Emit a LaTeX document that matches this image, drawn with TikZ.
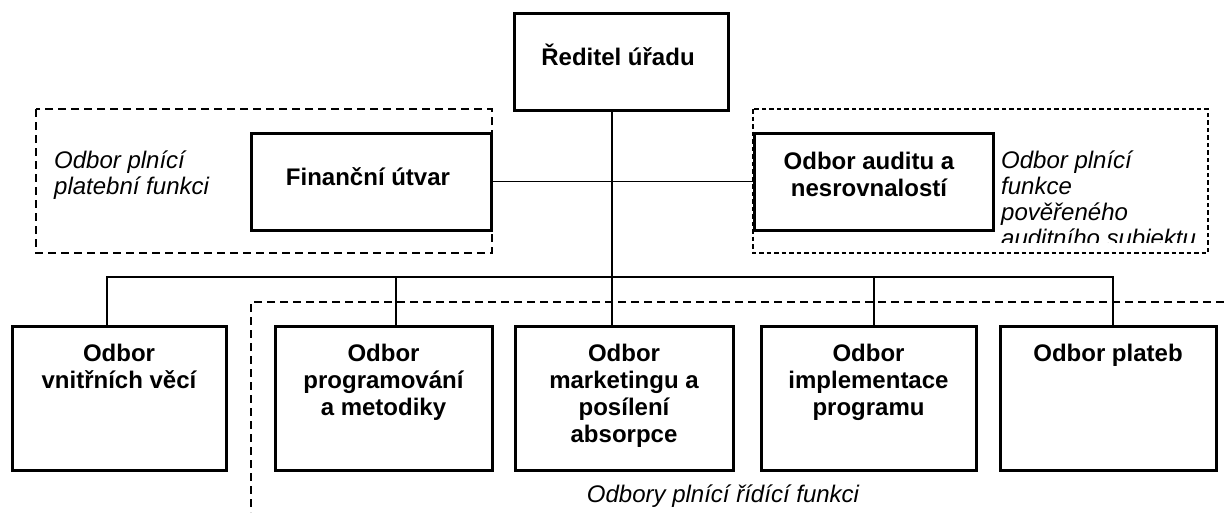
\documentclass[tikz,border=0pt]{standalone}
\usepackage{fontspec}
\setmainfont{Liberation Sans}
\begin{document}
\begin{tikzpicture}[x=1pt,y=-1pt,
  box/.style={draw, line width=3pt, inner sep=0pt},
  btext/.style={font=\bfseries\fontsize{24}{27}\selectfont, align=center, inner sep=0pt},
  itext/.style={font=\itshape\fontsize{24}{26}\selectfont, align=left, inner sep=0pt},
  conn/.style={line width=1.8pt},
  grpA/.style={line width=2.4pt, dash pattern=on 8pt off 5pt},
  grpB/.style={line width=1.3pt, dash pattern=on 4.5pt off 3pt}]
\useasboundingbox (0,0) rectangle (1224,512);

% boxes
\node[box, minimum width=214pt, minimum height=97pt] (dir) at (621,61.5) {};
\node[box, minimum width=240pt, minimum height=97pt] (fin) at (371,181.5) {};
\node[box, minimum width=239pt, minimum height=97pt] (aud) at (873.5,181.5) {};
\node[box, minimum width=214pt, minimum height=144pt] (b1) at (119,398) {};
\node[box, minimum width=217pt, minimum height=144pt] (b2) at (383.5,398) {};
\node[box, minimum width=218pt, minimum height=144pt] (b3) at (624,398) {};
\node[box, minimum width=215pt, minimum height=144pt] (b4) at (868.5,398) {};
\node[box, minimum width=216pt, minimum height=144pt] (b5) at (1108,398) {};

% box texts
\node[btext] (tdir) at (618,55) {Ředitel úřadu};
\node[btext] (tfin) at (368,177) {Finanční útvar};
\node[btext] (taud) at (869,174) {Odbor auditu a\\nesrovnalostí};
\node[btext, anchor=north] (t1) at (119,344) {Odbor\\vnitřních věcí};
\node[btext, anchor=north] (t2) at (383.5,344) {Odbor\\programování\\a metodiky};
\node[btext, anchor=north] (t3) at (624,344) {Odbor\\marketingu a\\posílení\\absorpce};
\node[btext, anchor=north] (t4) at (868.5,344) {Odbor\\implementace\\programu};
\node[btext, anchor=north] (t5) at (1108,344) {Odbor plateb};

% connectors
\coordinate (j1) at (107,277);
\coordinate (j2) at (396,277);
\coordinate (j3) at (612,277);
\coordinate (j4) at (874,277);
\coordinate (j5) at (1113,277);
\draw[conn] (dir.south -| j3) -- (j3);
\draw[conn] (fin.east) -- (aud.west);
\draw[conn] (j1 |- b1.north) -- (j1) -- (j5) -- (j5 |- b5.north);
\draw[conn] (j2) -- (j2 |- b2.north);
\draw[conn] (j3) -- (j3 |- b3.north);
\draw[conn] (j4) -- (j4 |- b4.north);

% group frames
\draw[grpA] (36,109) rectangle (492,253);
\draw[grpB] (753,109) rectangle (1208,253);
\draw[grpA] (1224,302) -- (251,302) -- (251,512);

% group labels
\node[itext, anchor=north west] (lpay) at (54,151) {Odbor plnící\\platební funkci};
\begin{scope}
  \clip (990,100) rectangle (1224,242);
  \node[itext, anchor=north west] (laud) at (1001,151) {Odbor plnící\\funkce\\pověřeného\\auditního subjektu};
\end{scope}
\node[itext, anchor=base] (lman) at (723,502) {Odbory plnící řídící funkci};
\end{tikzpicture}
\end{document}
